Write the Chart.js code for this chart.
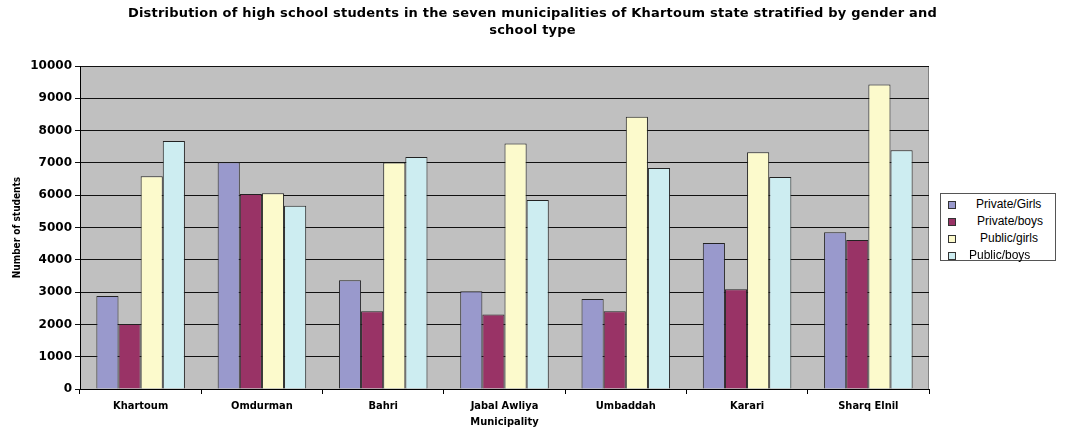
<!doctype html>
<html lang="en">

<head>
    <meta charset="utf-8">
    <title>High school students in Khartoum state</title>
    <style>
        html, body { margin: 0; padding: 0; background: #fff; }
        #container { position: relative; width: 1065px; height: 429px; }
        #title {
            position: absolute; left: 0; top: 4px; width: 1065px; text-align: center;
            font: bold 13px "DejaVu Sans", sans-serif; line-height: 17px; color: #000;
            letter-spacing: 0.2px;
        }
        #legend {
            position: absolute; left: 940px; top: 193px; width: 116px; height: 68px;
            border: 1px solid #555; background: #fff; box-sizing: border-box;
            font: 12px "Liberation Sans", Arial, sans-serif; color: #000;
        }
        #legend div { position: absolute; left: 0; height: 17px; line-height: 17px; white-space: nowrap; }
        #legend span.sw { position: absolute; left: 7px; top: 5px; width: 6px; height: 6px; border: 1px solid #333; }
        #legend span.tx { position: absolute; }
    </style>
</head>

<body>
    <div id="container">
        <canvas id="chart" width="1065" height="429"></canvas>
        <div id="title">Distribution of high school students in the seven municipalities of Khartoum state stratified by gender and<br>school type</div>
        <div id="legend"></div>
    </div>

    <script src="https://cdn.jsdelivr.net/npm/chart.js@4/dist/chart.umd.min.js"></script>
    <script>
        const municipalities = ["Khartoum", "Omdurman", "Bahri", "Jabal Awliya", "Umbaddah", "Karari", "Sharq Elnil"];
        const seriesNames = ["Private/Girls", "Private/boys", "Public/girls", "Public/boys"];
        const privateGirls = [2880, 7020, 3370, 3030, 2790, 4520, 4850];
        const privateBoys = [2010, 6040, 2410, 2310, 2410, 3090, 4610];
        const publicGirls = [6590, 6060, 7010, 7600, 8430, 7330, 9430];
        const publicBoys = [7680, 5670, 7180, 5850, 6840, 6560, 7390];
        const yTicks = [0, 1000, 2000, 3000, 4000, 5000, 6000, 7000, 8000, 9000, 10000];

        const colors = ["#9999cc", "#993366", "#fcfacc", "#cdedf1"];
        const legendIndent = [35, 36, 39, 28];

        const plotBackground = {
            id: "plotBackground",
            beforeDraw: chart => {
                const { ctx, chartArea: a } = chart;
                ctx.save();
                ctx.fillStyle = "#c0c0c0";
                ctx.fillRect(a.left, a.top, a.right - a.left, a.bottom - a.top);
                ctx.strokeStyle = "#808080";
                ctx.lineWidth = 1;
                ctx.strokeRect(a.left + 0.5, a.top + 0.5, a.right - a.left - 1, a.bottom - a.top);
                ctx.restore();
            }
        };

        const tickFont = { family: "'DejaVu Sans', sans-serif", size: 12, weight: "bold" };
        const labelFont = { family: "'DejaVu Sans Condensed', 'Liberation Sans Narrow', 'DejaVu Sans', sans-serif", size: 11, weight: "bold" };
        const yTitleFont = { ...labelFont, size: 10 };

        const config = {
            type: "bar",
            data: {
                labels: municipalities,
                datasets: [privateGirls, privateBoys, publicGirls, publicBoys].map((d, i) => ({
                    label: seriesNames[i],
                    data: d,
                    backgroundColor: colors[i],
                    borderColor: "#222",
                    borderWidth: 1,
                    barPercentage: 1,
                    categoryPercentage: 0.73
                }))
            },
            options: {
                responsive: false,
                animation: false,
                layout: { padding: { top: 66, right: 136, left: 11, bottom: 0 } },
                scales: {
                    x: {
                        grid: { offset: true, drawOnChartArea: false, color: "#000", tickLength: 5 },
                        border: { color: "#000" },
                        ticks: { color: "#000", font: labelFont, padding: 6 },
                        title: { display: true, text: "Municipality", color: "#000", font: labelFont, padding: { top: 0, bottom: 0 } },
                        afterFit: s => { s.height = 40; }
                    },
                    y: {
                        min: 0,
                        max: 10000,
                        afterBuildTicks: s => { s.ticks = yTicks.map(v => ({ value: v })); },
                        grid: { color: "#111", tickLength: 5 },
                        border: { color: "#000" },
                        ticks: { color: "#000", font: tickFont, padding: 3, callback: v => String(v) },
                        title: { display: true, text: "Number of students", color: "#000", font: yTitleFont, padding: 0 },
                        afterFit: s => { s.width = 69; }
                    }
                },
                plugins: {
                    legend: { display: false },
                    title: { display: false },
                    tooltip: { enabled: false }
                }
            },
            plugins: [plotBackground]
        };
        const chart = new Chart("chart", config);

        const legend = document.getElementById("legend");
        seriesNames.forEach((name, i) => {
            const row = document.createElement("div");
            row.style.top = (2 + i * 17) + "px";
            row.style.width = "100%";
            row.innerHTML = `<span class="sw" style="background:${colors[i]}"></span><span class="tx" style="left:${legendIndent[i]}px">${name}</span>`;
            legend.appendChild(row);
        });
    </script>
</body>

</html>
